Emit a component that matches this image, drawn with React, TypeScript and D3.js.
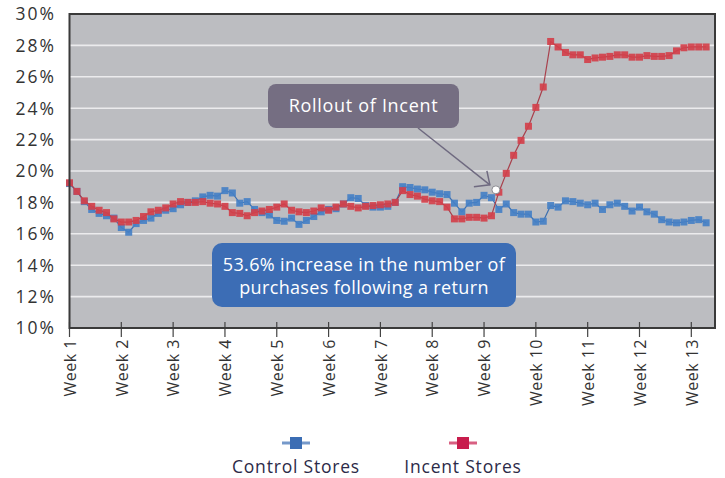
import React, { useEffect, useRef } from 'react';
import * as d3 from 'd3';

// daily share of purchases following a return (%), day 0 = Week 1
const controlStores = [
  19.2, 18.7, 18.05, 17.55, 17.3, 17.15, 17.0, 16.4, 16.1, 16.65, 16.85, 17.0, 17.3, 17.5,
  17.6, 17.85, 18.0, 18.1, 18.35, 18.45, 18.4, 18.75, 18.6, 17.95, 18.05, 17.55, 17.35, 17.2,
  16.85, 16.8, 17.0, 16.6, 16.85, 17.1, 17.4, 17.55, 17.6, 17.9, 18.3, 18.25, 17.8, 17.7,
  17.7, 17.75, 18.0, 19.0, 18.95, 18.85, 18.8, 18.65, 18.55, 18.5, 17.95, 17.4, 17.95, 18.0,
  18.45, 18.3, 17.55, 17.9, 17.35, 17.25, 17.25, 16.75, 16.8, 17.8, 17.7, 18.1, 18.05, 17.95,
  17.85, 17.95, 17.55, 17.85, 17.95, 17.75, 17.45, 17.7, 17.4, 17.25, 16.9, 16.75, 16.7, 16.75,
  16.85, 16.9, 16.7,
];
const incentStores = [
  19.25, 18.7, 18.1, 17.75, 17.5, 17.35, 16.95, 16.75, 16.75, 16.85, 17.1, 17.4, 17.5, 17.65,
  17.9, 18.05, 18.0, 18.0, 18.05, 17.95, 17.9, 17.75, 17.35, 17.3, 17.15, 17.35, 17.45, 17.55,
  17.7, 17.9, 17.5, 17.4, 17.35, 17.45, 17.65, 17.5, 17.7, 17.9, 17.75, 17.65, 17.75, 17.8,
  17.85, 17.9, 18.0, 18.75, 18.5, 18.4, 18.2, 18.1, 18.05, 17.7, 16.95, 16.95, 17.05, 17.05,
  17.0, 17.15, 18.65, 19.85, 21.0, 21.95, 22.85, 24.05, 25.35, 28.25, 27.9, 27.55, 27.4, 27.4,
  27.1, 27.2, 27.25, 27.3, 27.4, 27.4, 27.25, 27.25, 27.35, 27.3, 27.3, 27.35, 27.65, 27.85,
  27.9, 27.9, 27.9,
];
const weekLabels = [
  'Week 1', 'Week 2', 'Week 3', 'Week 4', 'Week 5', 'Week 6', 'Week 7',
  'Week 8', 'Week 9', 'Week 10', 'Week 11', 'Week 12', 'Week 13',
];
const yTicks = [10, 12, 14, 16, 18, 20, 22, 24, 26, 28, 30];
const rollout = { day: 57.6, value: 18.8 };

const FONT = '"Open Sans", "Noto Sans", sans-serif';

const App: React.FC = () => {
  const svgRef = useRef<SVGSVGElement | null>(null);

  useEffect(() => {
    const width = 725;
    const height = 478;
    const left = 69.5, right = 715, top = 14, bottom = 328;

    const svg = d3.select(svgRef.current);
    svg.selectAll('*').remove();
    svg.attr('viewBox', [0, 0, width, height]);

    const x = d3.scaleLinear().domain([0, 87.2]).range([left, right]);
    const y = d3.scaleLinear().domain([10, 30]).range([bottom, top]);

    // plot background
    svg.append('rect')
      .attr('x', left).attr('y', top)
      .attr('width', right - left).attr('height', bottom - top)
      .attr('fill', '#bcbdc1');

    // gridlines
    svg.append('g')
      .selectAll('line')
      .data(yTicks.slice(1, -1))
      .join('line')
      .attr('x1', left).attr('x2', right)
      .attr('y1', d => y(d)).attr('y2', d => y(d))
      .attr('stroke', '#ebebed')
      .attr('stroke-width', 1.6);

    // y labels
    svg.append('g')
      .selectAll('text')
      .data(yTicks)
      .join('text')
      .attr('x', 56)
      .attr('y', d => y(d))
      .attr('dy', '0.36em')
      .attr('text-anchor', 'end')
      .attr('font-family', FONT)
      .attr('font-size', 17.5)
      .attr('letter-spacing', 2)
      .attr('fill', '#333')
      .text(d => `${d}%`);

    // x ticks and labels
    const weeks = weekLabels.map((label, i) => ({ label, day: i * 7 }));
    svg.append('g')
      .selectAll('line')
      .data(weeks)
      .join('line')
      .attr('x1', d => x(d.day)).attr('x2', d => x(d.day))
      .attr('y1', bottom - 6).attr('y2', bottom + 9)
      .attr('stroke', '#444')
      .attr('stroke-width', 1.2);

    svg.append('g')
      .selectAll('text')
      .data(weeks)
      .join('text')
      .attr('transform', d => `translate(${x(d.day) + 0.5},${bottom + 11}) rotate(-90)`)
      .attr('dy', '0.36em')
      .attr('text-anchor', 'end')
      .attr('font-family', FONT)
      .attr('font-size', 16)
      .attr('letter-spacing', 0.5)
      .attr('fill', '#333')
      .text(d => d.label);

    const series = [
      { values: controlStores, color: '#4580c6', line: '#3c6fb0' },
      { values: incentStores, color: '#d3404b', line: '#a8404c' },
    ];

    const line = d3.line<number>()
      .x((_, i) => x(i))
      .y(d => y(d));

    series.forEach(s => {
      const g = svg.append('g');
      g.append('path')
        .datum(s.values)
        .attr('d', line)
        .attr('fill', 'none')
        .attr('stroke', s.line)
        .attr('stroke-width', 1.2);
      g.selectAll('rect')
        .data(s.values)
        .join('rect')
        .attr('x', (_, i) => x(i) - 3.5)
        .attr('y', d => y(d) - 3.5)
        .attr('width', 7)
        .attr('height', 7)
        .attr('fill', s.color)
        .attr('fill-opacity', 0.92);
    });

    // frame
    svg.append('rect')
      .attr('x', left).attr('y', top)
      .attr('width', right - left).attr('height', bottom - top)
      .attr('fill', 'none')
      .attr('stroke', '#3a3a3a')
      .attr('stroke-width', 2);

    // rollout annotation
    const tipX = x(rollout.day) - 6;
    const tipY = y(rollout.value) - 5;
    svg.append('line')
      .attr('x1', 418).attr('y1', 128)
      .attr('x2', tipX).attr('y2', tipY)
      .attr('stroke', '#6f6a80').attr('stroke-width', 1.5);
    svg.append('polyline')
      .attr('points', `${tipX - 16},${tipY + 2} ${tipX},${tipY} ${tipX - 3},${tipY - 14}`)
      .attr('fill', 'none')
      .attr('stroke', '#6f6a80').attr('stroke-width', 1.5);
    svg.append('circle')
      .attr('cx', x(rollout.day)).attr('cy', y(rollout.value))
      .attr('r', 4)
      .attr('fill', '#fff')
      .attr('stroke', '#8a8a90')
      .attr('stroke-width', 1);

    svg.append('rect')
      .attr('x', 268).attr('y', 84)
      .attr('width', 191).attr('height', 44)
      .attr('rx', 8)
      .attr('fill', '#756e82');
    svg.append('text')
      .attr('x', 363.5).attr('y', 106)
      .attr('dy', '0.36em')
      .attr('text-anchor', 'middle')
      .attr('font-family', FONT)
      .attr('font-size', 18)
      .attr('font-weight', 500)
      .attr('letter-spacing', 0.7)
      .attr('fill', '#fff')
      .text('Rollout of Incent');

    svg.append('rect')
      .attr('x', 212).attr('y', 243)
      .attr('width', 304).attr('height', 64)
      .attr('rx', 10)
      .attr('fill', '#3c6db5');
    const boxLines = ['53.6% increase in the number of', 'purchases following a return'];
    svg.append('g')
      .selectAll('text')
      .data(boxLines)
      .join('text')
      .attr('x', 364)
      .attr('y', (_, i) => 265 + i * 23)
      .attr('dy', '0.36em')
      .attr('text-anchor', 'middle')
      .attr('font-family', FONT)
      .attr('font-size', 18)
      .attr('font-weight', 500)
      .attr('letter-spacing', 0.35)
      .attr('fill', '#fff')
      .text(d => d);

    // legend
    const legend = [
      { label: 'Control Stores', color: '#3b6db4', cx: 296 },
      { label: 'Incent Stores', color: '#c81d4d', cx: 463 },
    ];
    const lg = svg.append('g').selectAll('g').data(legend).join('g');
    lg.append('line')
      .attr('x1', d => d.cx - 14).attr('x2', d => d.cx + 14)
      .attr('y1', 443).attr('y2', 443)
      .attr('stroke', d => d.color)
      .attr('stroke-opacity', 0.7)
      .attr('stroke-width', 3);
    lg.append('rect')
      .attr('x', d => d.cx - 6).attr('y', 437)
      .attr('width', 12).attr('height', 12)
      .attr('fill', d => d.color);
    lg.append('text')
      .attr('x', d => d.cx).attr('y', 467)
      .attr('dy', '0.36em')
      .attr('text-anchor', 'middle')
      .attr('font-family', FONT)
      .attr('font-size', 17.5)
      .attr('letter-spacing', 0.8)
      .attr('fill', '#2c2a48')
      .text(d => d.label);
  }, []);

  return (
    <svg
      ref={svgRef}
      width={725}
      height={478}
      style={{ position: 'absolute', left: 0, top: 0, display: 'block', background: '#fff' }}
    />
  );
};

export default App;
